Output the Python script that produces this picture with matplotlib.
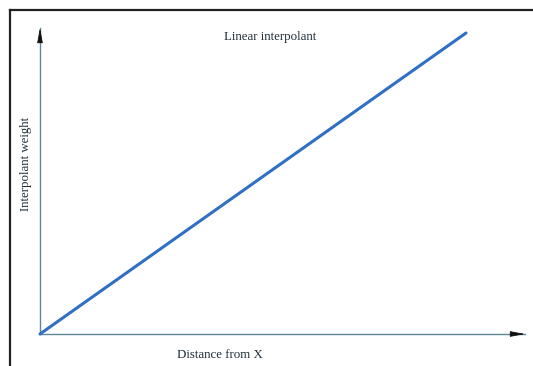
import matplotlib.pyplot as plt
from matplotlib.lines import Line2D

# data: linear interpolant weight vs distance
distance = [0.0, 1.0]
weight = [0.0, 1.0]
title = "Linear interpolant"
xlabel = "Distance from X"
ylabel = "Interpolant weight"

plt.rcParams['font.family'] = ['Liberation Serif', 'DejaVu Serif']

W, H = 533, 366
fig = plt.figure(figsize=(W / 100, H / 100), dpi=100)
fig.patch.set_facecolor('white')

# dark frame on top and left edges of the scanned picture
fig.add_artist(Line2D([9.5 / W, 1], [1 - 9.5 / H, 1 - 9.5 / H], color='#222222', lw=1.6, transform=fig.transFigure))
fig.add_artist(Line2D([9.5 / W, 9.5 / W], [0, 1 - 9.5 / H], color='#222222', lw=1.6, transform=fig.transFigure))

x0, y0 = 40, 334
x1, y1 = 466, 33
ax = fig.add_axes([x0 / W, (H - y0) / H, (x1 - x0) / W, (y0 - y1) / H])
ax.set_xlim(0, 1)
ax.set_ylim(0, 1)
ax.axis('off')

# axes lines
xend = (525 - x0) / (x1 - x0)
yend = (y0 - 28) / (y0 - y1)
ax.plot([0, xend], [0, 0], color='#5b8797', lw=1.0, clip_on=False)
ax.plot([0, 0], [0, yend], color='#5b8797', lw=1.0, clip_on=False)

# black arrow heads
head = dict(arrowstyle='-|>,head_length=0.9,head_width=0.17', color='#111111', lw=0.6,
            mutation_scale=10, shrinkA=0, shrinkB=0)
ax.annotate('', xy=(xend, 0), xytext=(xend - 0.03, 0), arrowprops=head, annotation_clip=False)
ax.annotate('', xy=(0, yend), xytext=(0, yend - 0.045), arrowprops=head, annotation_clip=False)

ax.plot(distance, weight, color='#2f6fc4', lw=2.2, solid_capstyle='round', clip_on=False)

fig.text(270 / W, 1 - 37 / H, title, ha='center', va='center', fontsize=9.3, color='#1e2d36')
fig.text(220 / W, 1 - 355 / H, xlabel, ha='center', va='center', fontsize=9.3, color='#1e2d36')
fig.text(26 / W, 1 - 164 / H, ylabel, ha='center', va='center', rotation=90, fontsize=9.3, color='#1e2d36')

fig.savefig('out.png', dpi=100)
